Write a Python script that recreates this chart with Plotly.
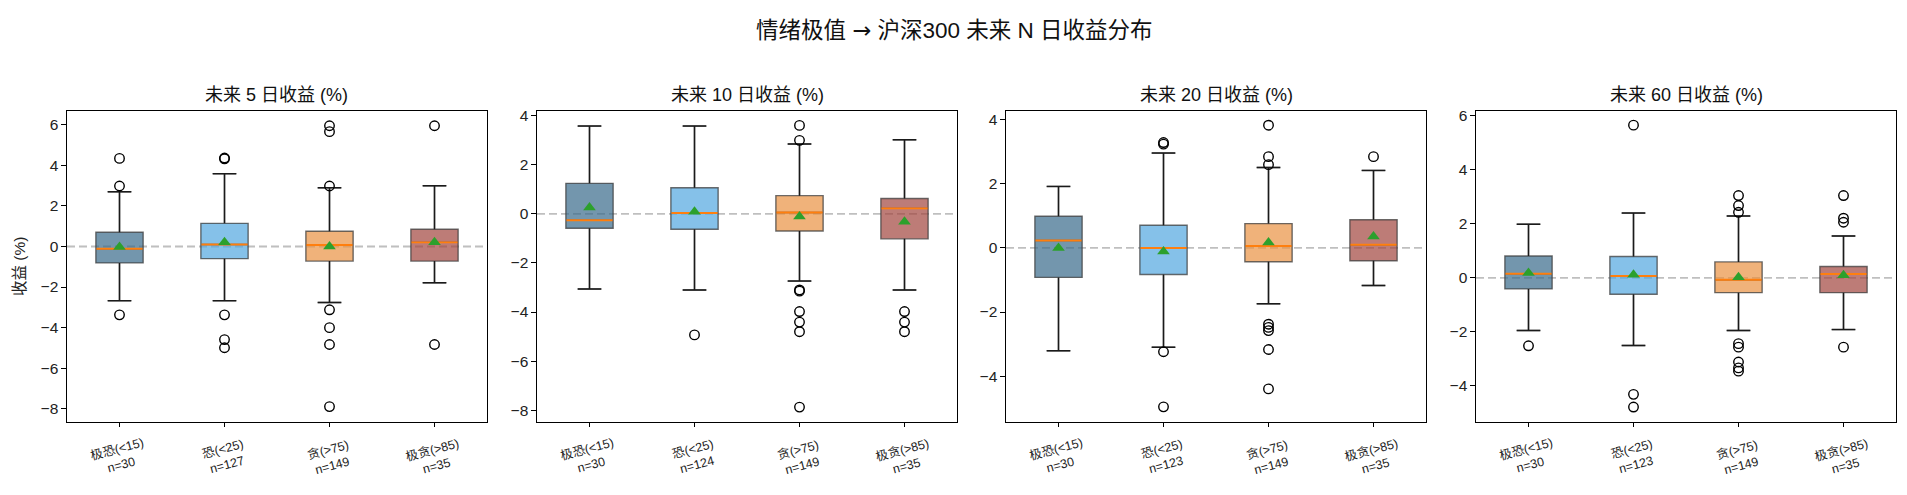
import plotly.graph_objects as go

# ---------------- data ----------------
categories = ["极恐(<15)", "恐(<25)", "贪(>75)", "极贪(>85)"]
horizons = [5, 10, 20, 60]
n_counts = [[30, 127, 149, 35], [30, 124, 149, 35], [30, 123, 149, 35], [30, 123, 149, 35]]

q1_vals = [[-0.81, -0.60, -0.72, -0.72], [-0.59, -0.63, -0.70, -1.02],
           [-0.92, -0.83, -0.43, -0.40], [-0.41, -0.61, -0.55, -0.55]]
median_vals = [[-0.11, 0.10, 0.07, 0.20], [-0.26, 0.03, 0.05, 0.22],
               [0.23, 0.00, 0.06, 0.10], [0.15, 0.07, -0.07, 0.14]]
q3_vals = [[0.70, 1.14, 0.75, 0.85], [1.24, 1.06, 0.74, 0.62],
           [0.99, 0.71, 0.76, 0.88], [0.81, 0.79, 0.59, 0.42]]
low_whisker = [[-2.67, -2.67, -2.76, -1.79], [-3.06, -3.10, -2.74, -3.10],
               [-3.21, -3.10, -1.74, -1.17], [-1.95, -2.51, -1.95, -1.92]]
high_whisker = [[2.70, 3.59, 2.89, 2.99], [3.57, 3.57, 2.84, 3.01],
                [1.92, 2.96, 2.51, 2.42], [1.99, 2.40, 2.29, 1.55]]
mean_vals = [[-0.03, 0.21, 0.00, 0.21], [0.26, 0.08, -0.11, -0.32],
             [0.00, -0.11, 0.17, 0.36], [0.18, 0.11, 0.02, 0.10]]
outliers = [
    [[4.34, 2.98, -3.37], [4.36, 4.32, -3.37, -4.59, -4.99],
     [5.95, 5.66, 2.98, -3.12, -4.00, -4.83, -7.89], [5.95, -4.83]],
    [[], [-4.93], [3.60, 2.99, -3.10, -3.15, -3.98, -4.41, -4.80, -7.87],
     [-3.98, -4.41, -4.80]],
    [[], [3.29, 3.24, -3.24, -4.96], [3.83, 2.85, 2.60, -2.38, -2.48, -2.58, -3.17, -4.40],
     [2.85]],
    [[-2.52], [5.66, -4.32, -4.79], [3.05, 2.68, 2.43, -2.44, -2.57, -3.12, -3.34, -3.46],
     [3.05, 2.21, 2.06, -2.57]],
]
y_ranges = [[-8.63, 6.67], [-8.46, 4.18], [-5.42, 4.27], [-5.33, 6.18]]

# ---------------- style ----------------
box_colors = ["rgba(55,106,138,0.7)", "rgba(81,166,224,0.7)",
              "rgba(234,145,65,0.7)", "rgba(161,68,61,0.7)"]
FONT = "Liberation Sans, DejaVu Sans, Noto Sans CJK SC, sans-serif"
W, H = 1907, 495
x_domains = [[67 / W, 487 / W], [537 / W, 957 / W], [1006 / W, 1426 / W], [1476 / W, 1896 / W]]
y_domain = [1 - 421 / H, 1 - 108 / H]
BOX_W = 0.45
CAP_W = BOX_W / 2

fig = go.Figure()
annotations = []
shapes = []

for p in range(4):
    xa = "x" if p == 0 else f"x{p+1}"
    ya = "y" if p == 0 else f"y{p+1}"
    for i in range(4):
        pos = i + 1
        fig.add_trace(go.Box(
            x=[pos], q1=[q1_vals[p][i]], median=[median_vals[p][i]], q3=[q3_vals[p][i]],
            lowerfence=[low_whisker[p][i]], upperfence=[high_whisker[p][i]],
            width=BOX_W, whiskerwidth=0.5, boxpoints=False,
            fillcolor=box_colors[i], line=dict(color="rgba(60,60,60,0.75)", width=1.4),
            xaxis=xa, yaxis=ya, showlegend=False, hoverinfo="skip"))
        # whiskers + caps (black)
        wx = [pos, pos, None, pos, pos, None,
              pos - CAP_W / 2, pos + CAP_W / 2, None, pos - CAP_W / 2, pos + CAP_W / 2]
        wy = [q3_vals[p][i], high_whisker[p][i], None, q1_vals[p][i], low_whisker[p][i], None,
              high_whisker[p][i], high_whisker[p][i], None, low_whisker[p][i], low_whisker[p][i]]
        fig.add_trace(go.Scatter(x=wx, y=wy, mode="lines", line=dict(color="#1a1a1a", width=1.5),
                                 xaxis=xa, yaxis=ya, showlegend=False, hoverinfo="skip"))
        # median
        fig.add_trace(go.Scatter(x=[pos - BOX_W / 2 + 0.005, pos + BOX_W / 2 - 0.005],
                                 y=[median_vals[p][i]] * 2, mode="lines",
                                 line=dict(color="#ff7f0e", width=1.9),
                                 xaxis=xa, yaxis=ya, showlegend=False, hoverinfo="skip"))
        # outliers
        if outliers[p][i]:
            fig.add_trace(go.Scatter(x=[pos] * len(outliers[p][i]), y=outliers[p][i], mode="markers",
                                     marker=dict(symbol="circle-open", size=9.5, color="black",
                                                 line=dict(width=1.4)),
                                     xaxis=xa, yaxis=ya, showlegend=False, hoverinfo="skip"))
        # mean
        fig.add_trace(go.Scatter(x=[pos], y=[mean_vals[p][i]], mode="markers",
                                 marker=dict(symbol="triangle-up", size=11, color="#2ca02c"),
                                 xaxis=xa, yaxis=ya, showlegend=False, hoverinfo="skip"))
        # x tick label
        annotations.append(dict(
            x=pos, xref=xa, y=1 - 457 / H, yref="paper",
            text=f"{categories[i]}<br>n={n_counts[p][i]}", showarrow=False,
            textangle=-15, font=dict(size=12.5, family=FONT, color="#222"),
            xanchor="center", yanchor="middle"))
    # zero line
    shapes.append(dict(type="line", xref=f"{xa} domain", yref=ya, x0=0, x1=1, y0=0, y1=0,
                       line=dict(color="rgba(170,170,170,0.75)", width=1.8, dash="8px,4px"),
                       layer="below"))
    # subplot title
    annotations.append(dict(
        x=(x_domains[p][0] + x_domains[p][1]) / 2, xref="paper", y=1 - 91.5 / H, yref="paper",
        text=f"未来 {horizons[p]} 日收益 (%)", showarrow=False,
        font=dict(size=18, family=FONT, color="#111"), xanchor="center", yanchor="middle"))

main_title = "情绪极值 <span style=\"font-family:'DejaVu Sans'\">→</span> 沪深300 未来 N 日收益分布"
annotations.append(dict(
    x=0.5, xref="paper", y=1 - 26 / H, yref="paper", text=main_title,
    showarrow=False, font=dict(size=22.5, family=FONT, color="#111"), xanchor="center", yanchor="middle"))

layout = dict(
    width=W, height=H, margin=dict(l=0, r=0, t=0, b=0),
    paper_bgcolor="white", plot_bgcolor="white",
    font=dict(family=FONT, size=15, color="#222"),
    annotations=annotations, shapes=shapes, showlegend=False,
)
for p in range(4):
    xk = "xaxis" if p == 0 else f"xaxis{p+1}"
    yk = "yaxis" if p == 0 else f"yaxis{p+1}"
    ya = "y" if p == 0 else f"y{p+1}"
    xa = "x" if p == 0 else f"x{p+1}"
    layout[xk] = dict(domain=x_domains[p], anchor=ya, range=[0.5, 4.5], tickvals=[1, 2, 3, 4],
                      showticklabels=False, ticks="outside", ticklen=4.5, tickwidth=1.1, tickcolor="black",
                      showline=True, linecolor="black", linewidth=1.2, mirror=True,
                      showgrid=False, zeroline=False)
    layout[yk] = dict(domain=y_domain, anchor=xa, range=y_ranges[p], dtick=2,
                      ticks="outside", ticklen=4.5, tickwidth=1.1, tickcolor="black",
                      tickfont=dict(size=15.5, family=FONT, color="#222"),
                      showline=True, linecolor="black", linewidth=1.2, mirror=True,
                      showgrid=False, zeroline=False)
layout["yaxis"]["title"] = dict(text="收益 (%)", font=dict(size=15.5, family=FONT, color="#222"), standoff=11)

fig.update_layout(**layout)
fig.write_html("out.html")
